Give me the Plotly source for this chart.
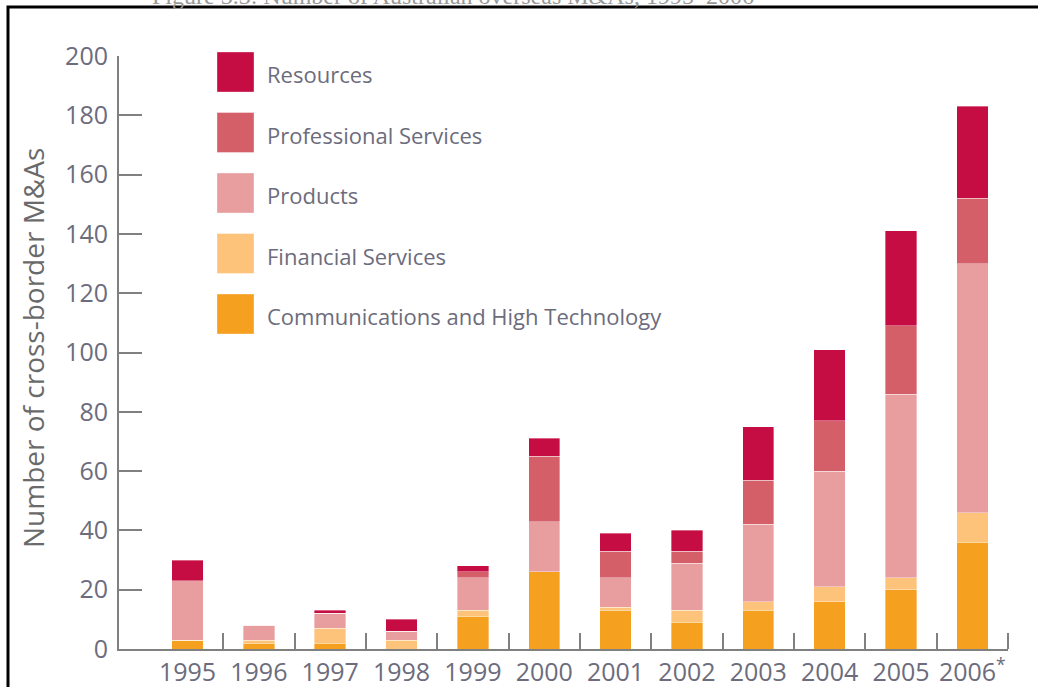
import plotly.graph_objects as go

years = ['1995', '1996', '1997', '1998', '1999', '2000', '2001', '2002', '2003', '2004', '2005', '2006<sup>*</sup>']

# series, bottom to top of each stack
comms = [3, 2, 2, 0, 11, 26, 13, 9, 13, 16, 20, 36]
financial = [0, 1, 5, 3, 2, 0, 1, 4, 3, 5, 4, 10]
products = [20, 5, 5, 3, 11, 17, 10, 16, 26, 39, 62, 84]
professional = [0, 0, 0, 0, 2, 22, 9, 4, 15, 17, 23, 22]
resources = [7, 0, 1, 4, 2, 6, 6, 7, 18, 24, 32, 31]

series = [
    ('Communications and High Technology', comms, '#f5a01e'),
    ('Financial Services', financial, '#fdc37b'),
    ('Products', products, '#e89e9f'),
    ('Professional Services', professional, '#d45f69'),
    ('Resources', resources, '#c50c43'),
]

W, H = 1038, 687
L, R, T, B = 119, 30, 56, 38
PW, PH = W - L - R, H - T - B


def px_x(x):
    return (x - L) / PW


def px_y(y):
    return (H - B - y) / PH


TXT = '#6c6c7c'
AX = '#808080'
FONT = 'Open Sans'

xs = list(range(len(years)))

fig = go.Figure()
for name, vals, color in series:
    fig.add_trace(go.Bar(x=xs, y=vals, name=name, marker_color=color,
                         marker_line=dict(width=0.6, color='rgba(255,255,255,0.6)'),
                         width=0.44, showlegend=False))

fig.update_layout(
    barmode='stack',
    width=W, height=H,
    margin=dict(l=L, r=R, t=T, b=B, autoexpand=False),
    paper_bgcolor='white', plot_bgcolor='white',
    font=dict(family=FONT, color=TXT),
)

fig.update_xaxes(
    range=[-0.96, 11.5], tickmode='array', tickvals=xs, ticktext=years,
    ticks='', showgrid=False, zeroline=False,
    showline=True, linecolor=AX, linewidth=2,
    tickfont=dict(size=25, color=TXT),
    minor=dict(tickmode='array', tickvals=[i + 0.5 for i in xs], ticks='inside',
               ticklen=16, tickwidth=2, tickcolor=AX, showgrid=False),
)
fig.update_yaxes(
    range=[0, 200], tickvals=list(range(0, 201, 20)),
    ticks='inside', ticklen=23, tickwidth=2, tickcolor=AX,
    showgrid=False, zeroline=False,
    showline=True, linecolor=AX, linewidth=2,
    tickfont=dict(size=25, color=TXT), ticklabelstandoff=4,
)

# y axis title
fig.add_annotation(text='Number of cross-border M&As', textangle=-90,
                   xref='paper', yref='paper', x=px_x(33), y=px_y(348),
                   xanchor='center', yanchor='middle',
                   showarrow=False, font=dict(size=28, color='#6a6a6a'))

# legend drawn as swatches, top item first
for i, (name, vals, color) in enumerate(reversed(series)):
    top = 52 + i * 60.5
    fig.add_shape(type='rect', xref='paper', yref='paper',
                  x0=px_x(217), x1=px_x(254), y0=px_y(top), y1=px_y(top + 40),
                  fillcolor=color, line=dict(width=0.6, color='rgba(255,255,255,0.6)'))
    fig.add_annotation(text=name, xref='paper', yref='paper',
                       x=px_x(265), y=px_y(top + 22), xanchor='left', yanchor='middle',
                       showarrow=False, font=dict(size=22, color=TXT))

# frame and clipped caption above it
fig.add_shape(type='rect', xref='paper', yref='paper',
              x0=px_x(8), x1=px_x(1050), y0=px_y(7), y1=px_y(700),
              line=dict(color='black', width=3), layer='below')
fig.add_annotation(text='Figure 3.3: Number of Australian overseas M&As, 1995\u20132006',
                   xref='paper', yref='paper', x=px_x(150), y=px_y(11),
                   xanchor='left', yanchor='bottom', showarrow=False,
                   font=dict(size=24, color='#999999', family='Liberation Serif'))

# page body has a default margin; drop it so the figure sits at the window corner
fig.write_html('out.html', config={'displayModeBar': False},
               post_script="document.body.style.margin='0';")
